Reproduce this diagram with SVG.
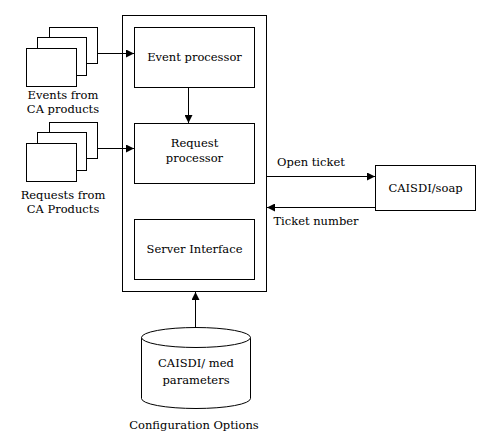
<svg xmlns="http://www.w3.org/2000/svg" width="495" height="437" viewBox="0 0 495 437">
<style>
.b{fill:#fff;stroke:#000;stroke-width:1}
.t{font-family:"DejaVu Serif","Liberation Serif",serif;font-size:11.5px;fill:#000;text-anchor:middle}
.c{stroke:#000;stroke-width:1;fill:none}
</style>
<defs>
<marker id="a" viewBox="0 0 8 8" refX="8" refY="4" markerWidth="8" markerHeight="8" markerUnits="userSpaceOnUse" orient="auto">
<path d="M0,0L8,4L0,8z" fill="#000"/>
</marker>
</defs>
<rect width="495" height="437" fill="#fff"/>
<g id="server">
<rect class="b" x="122.5" y="15.5" width="144" height="276"/>
</g>
<g id="events">
<rect class="b" x="49.5" y="27.5" width="48" height="36"/>
<rect class="b" x="37.5" y="37.5" width="49" height="38"/>
<rect class="b" x="26.5" y="48.5" width="50" height="38"/>
<text class="t" x="63" y="99">Events from</text>
<text class="t" x="63" y="113">CA products</text>
</g>
<g id="requests">
<rect class="b" x="49.5" y="122.5" width="48" height="36"/>
<rect class="b" x="37.5" y="132.5" width="49" height="38"/>
<rect class="b" x="26.5" y="143.5" width="50" height="38"/>
<text class="t" x="63" y="199">Requests from</text>
<text class="t" x="63" y="213">CA Products</text>
</g>
<g id="event-processor">
<rect class="b" x="134.5" y="27.5" width="120" height="60"/>
<text class="t" x="194.5" y="61">Event processor</text>
</g>
<g id="request-processor">
<rect class="b" x="134.5" y="123.5" width="120" height="60"/>
<text class="t" x="194.5" y="147">Request</text>
<text class="t" x="194.5" y="162">processor</text>
</g>
<g id="server-interface">
<rect class="b" x="134.5" y="219.5" width="120" height="60"/>
<text class="t" x="194.5" y="253">Server Interface</text>
</g>
<g id="soap">
<rect class="b" x="375.5" y="165.5" width="100" height="45"/>
<text class="t" x="425.5" y="192">CAISDI/soap</text>
</g>
<g id="med">
<path class="b" d="M141.5,337.5 L141.5,398.5 A54.5,10 0 0 0 250.5,398.5 L250.5,337.5"/>
<ellipse class="b" cx="196" cy="337.5" rx="54.5" ry="10"/>
<text class="t" x="196" y="367">CAISDI/ med</text>
<text class="t" x="196" y="384">parameters</text>
<text class="t" x="194" y="429">Configuration Options</text>
</g>
<g id="connectors">
<line class="c" x1="97" y1="53.5" x2="134" y2="53.5" marker-end="url(#a)"/>
<line class="c" x1="97" y1="148.5" x2="134" y2="148.5" marker-end="url(#a)"/>
<line class="c" x1="188.5" y1="88" x2="188.5" y2="123" marker-end="url(#a)"/>
<line class="c" x1="267" y1="176.5" x2="375" y2="176.5" marker-end="url(#a)"/>
<line class="c" x1="375" y1="207.5" x2="267" y2="207.5" marker-end="url(#a)"/>
<line class="c" x1="195.5" y1="327" x2="195.5" y2="292" marker-end="url(#a)"/>
<text class="t" x="311" y="166">Open ticket</text>
<text class="t" x="316" y="225">Ticket number</text>
</g>
</svg>
